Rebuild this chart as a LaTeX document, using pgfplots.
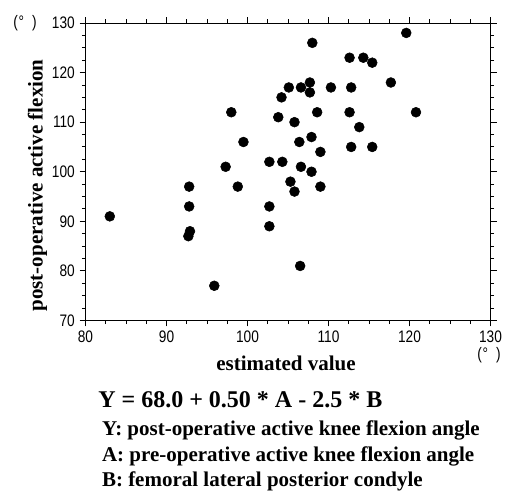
\documentclass[border=0pt]{standalone}
\usepackage{pgfplots}
\pgfplotsset{compat=1.18}
\usepackage{fontspec}
\setmainfont{Liberation Serif}
\newfontfamily\ticksf[FakeStretch=0.82]{Liberation Sans}

\pgfplotstableread{
x y
83.0 91
92.8 97
92.8 93
92.9 88
92.7 87
95.9 77
97.3 101
98.0 112
98.8 97
99.5 106
102.7 102
102.7 93
102.7 89
103.8 111
104.2 115
104.3 102
105.1 117
105.3 98
105.8 110
105.8 96
106.4 106
106.6 117
106.6 101
106.5 81
107.7 118
107.7 116
107.9 107
107.9 100
108.0 126
108.6 112
109.0 104
109.0 97
110.3 117
112.6 123
112.8 117
112.6 112
112.8 105
113.8 109
114.3 123
115.4 122
115.4 105
117.7 118
119.6 128
120.8 112
}\datatable

\begin{document}
\begin{tikzpicture}
\useasboundingbox (0,0) rectangle (379.5pt,-367.5pt);
\begin{axis}[
  at={(64.125pt,-17.25pt)}, anchor=north west,
  scale only axis,
  width=303.75pt, height=223.1pt,
  xmin=80, xmax=130, ymin=70, ymax=130,
  xtick={80,90,...,130}, ytick={70,80,...,130},
  minor x tick num=3, minor y tick num=3,
  tick align=outside,
  major tick length=4.5pt, minor tick length=2.75pt,
  axis line style={line width=0.7pt},
  every tick/.style={black, line width=0.7pt},
  tick label style={font=\ticksf\fontsize{12.5pt}{14pt}\selectfont},
  /pgf/number format/assume math mode=true,
  xlabel={estimated value},
  ylabel={post-operative active flexion},
  every axis x label/.style={at={(axis description cs:0.495,-0.168)}, anchor=base,
    font=\bfseries\fontsize{15.75pt}{18pt}\selectfont},
  every axis y label/.style={at={(axis description cs:-0.1185,0.454)}, rotate=90, anchor=center,
    font=\bfseries\fontsize{15.75pt}{18pt}\selectfont},
]
\addplot[only marks, mark=*, mark size=3.7pt, black, mark options={fill=black}] table[x=x, y=y] {\datatable};
\end{axis}
% degree unit markers
\node[font=\ticksf\fontsize{12.5pt}{14pt}\selectfont] at (18.75pt,-17.6pt) {(\kern0.5pt°\kern6pt)};
\node[font=\ticksf\fontsize{12.5pt}{14pt}\selectfont] at (366.75pt,-266.25pt) {(\kern0.5pt°\kern6pt)};
% regression formula
\node[anchor=base west, font=\bfseries\fontsize{18pt}{21pt}\selectfont, inner sep=0pt] at (73.5pt,-305.5pt) {Y = 68.0 + 0.50 * A - 2.5 * B};
\node[anchor=base west, font=\bfseries\fontsize{15.75pt}{18pt}\selectfont, inner sep=0pt] at (76.3pt,-326.25pt) {Y: post-operative active knee flexion angle};
\node[anchor=base west, font=\bfseries\fontsize{15.75pt}{18pt}\selectfont, inner sep=0pt] at (76.3pt,-345.75pt) {A: pre-operative active knee flexion angle};
\node[anchor=base west, font=\bfseries\fontsize{15.75pt}{18pt}\selectfont, inner sep=0pt] at (76.3pt,-364.5pt) {B: femoral lateral posterior condyle};
\end{tikzpicture}
\end{document}
